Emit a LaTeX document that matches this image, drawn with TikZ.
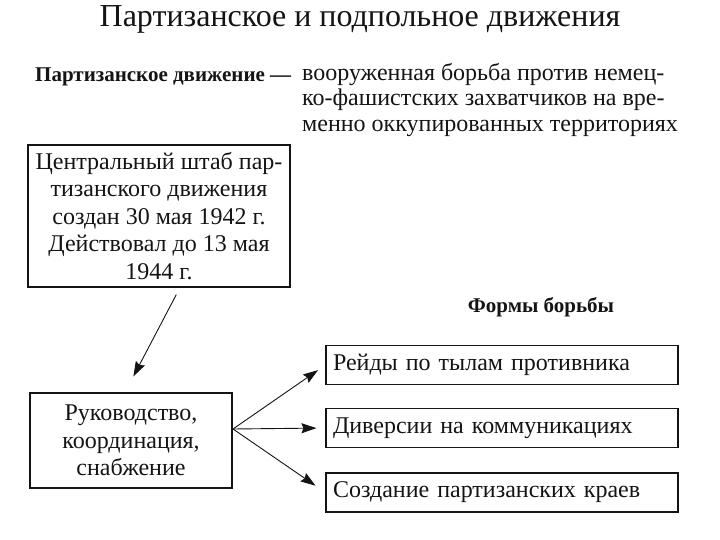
\documentclass[tikz,border=0pt]{standalone}
\usepackage{fontspec}
\setmainfont{Liberation Serif}
\usetikzlibrary{arrows.meta, positioning}
\definecolor{inkblack}{RGB}{20,20,20}

\tikzset{
    bodyfont/.style={font=\fontsize{24}{27.5}\selectfont},
    framebox/.style={draw=inkblack, line width=1.1pt, bodyfont},
    formbox/.style={framebox, minimum width=352, minimum height=39, text width=338, align=left, inner sep=7pt},
    arr/.style={-{Stealth[length=15pt, width=10pt, inset=2pt]}, line width=0.9pt, inkblack}
}

\begin{document}
\begin{tikzpicture}[x=1pt, y=-1pt, text=inkblack]
    \useasboundingbox (0,0) rectangle (720,540);
    % Title
    \node (title) at (360,19) {\fontsize{32}{36}\selectfont Партизанское и подпольное движения};

    % Definition
    \node[anchor=base west, inner sep=0, font=\fontsize{21}{25}\selectfont\bfseries] (defterm) at (35,82) {Партизанское движение ---};
    \node[anchor=north west, inner sep=0, align=left, font=\fontsize{24}{25.5}\selectfont] (defn) at (302,63) {вооруженная борьба против немец-\\ко-фашистских захватчиков на вре-\\менно оккупированных территориях};

    % Headquarters
    \node[framebox, minimum width=262, minimum height=142, align=center] (hq) at (159,216)
        {Центральный штаб пар-\\тизанского движения\\создан 30 мая 1942 г.\\Действовал до 13 мая\\1944 г.};

    \node[framebox, minimum width=202, minimum height=95, align=center] (lead) at (131,440.5)
        {Руководство,\\координация,\\снабжение};

    \draw[arr, shorten <=8pt, shorten >=18pt] (hq.south -| 180,0) -- (lead.north -| 125,0);

    % Forms of struggle
    \node[font=\fontsize{21}{24}\selectfont\bfseries] (forms) at (541,307) {Формы борьбы};

    \node[formbox] (raid) at (502,365) {Рейды по тылам противника};
    \node[formbox] (sabot) at (502,428) {Диверсии на коммуникациях};
    \node[formbox] (region) at (502,492.5) {Создание партизанских краев};

    \coordinate (fork) at (233,429);
    \draw[arr, shorten >=9pt] (fork) -- (raid.west);
    \draw[arr, shorten >=9pt] (fork) -- (sabot.west);
    \draw[arr, shorten >=12pt] (fork) -- (region.west);
\end{tikzpicture}
\end{document}
